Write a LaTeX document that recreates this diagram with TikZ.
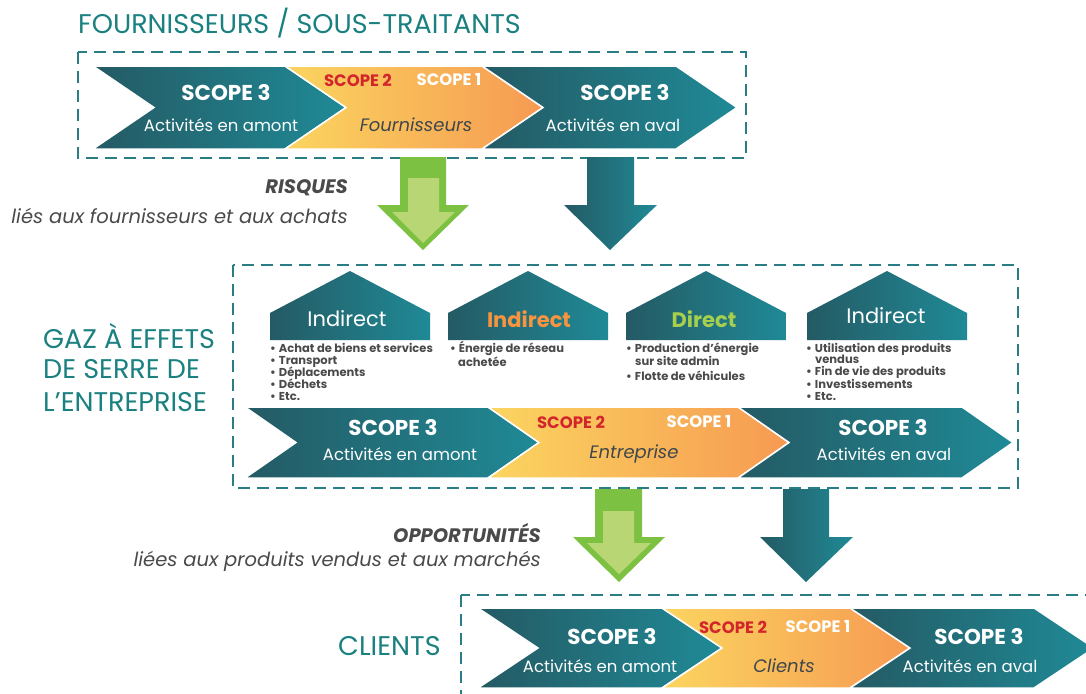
\documentclass[tikz,border=0pt]{standalone}
\usepackage{fontspec}
\setmainfont{Poppins}
\definecolor{tealD}{HTML}{245A64}
\definecolor{tealL}{HTML}{1F8A96}
\definecolor{titleT}{HTML}{1A8080}
\definecolor{yel}{HTML}{FBD560}
\definecolor{org}{HTML}{F69A52}
\definecolor{scred}{HTML}{D3262C}
\definecolor{txtgray}{HTML}{4A4A4A}
\definecolor{darkgray}{HTML}{3E474C}
\definecolor{grnD}{HTML}{7CC142}
\definecolor{grnL}{HTML}{B8D774}
\definecolor{dashT}{HTML}{2A7C85}
\definecolor{dirgreen}{HTML}{A6CF4E}
\definecolor{indorange}{HTML}{F7943F}
\newcommand{\fsz}[1]{\fontsize{#1}{#1}\selectfont}
\newcommand{\mychev}[6]{\shadedraw[#1] (#2,#4) -- (#3,#4) -- ({#3+#6},{(#4+#5)/2}) -- (#3,#5) -- (#2,#5) -- ({#2+#6},{(#4+#5)/2}) -- cycle;}
\newcommand{\myhouse}[3]{\shade[housefill] (#1,313) -- (#2,271) -- (#3,313) -- (#3,340) -- (#1,340) -- cycle;}
\tikzset{
  tealchev/.style={left color=tealD, right color=tealL, draw=white, line width=1.5pt},
  orgchev/.style={left color=yel, right color=org, draw=white, line width=1.5pt},
  housefill/.style={left color=tealD, right color=tealL},
  dashbox/.style={draw=dashT, line width=2pt, dash pattern=on 12pt off 7pt},
  big/.style={text=titleT, font=\fsz{27}, inner sep=0},
  sthree/.style={text=white, font=\fsz{21.5}\bfseries, inner sep=0},
  stwo/.style={text=scred, font=\fsz{16.5}\bfseries, inner sep=0},
  sone/.style={text=white, font=\fsz{16.5}\bfseries, inner sep=0},
  act/.style={text=white, font=\fsz{16.5}, inner sep=0},
  mid/.style={text=darkgray, font=\fsz{18}\itshape, inner sep=0},
  hlab/.style={font=\fsz{21}, inner sep=0},
  bul/.style={text=txtgray, font=\fsz{11.5}\bfseries, inner sep=0, anchor=base west},
  side/.style={text=txtgray, inner sep=0, anchor=east}
}
\begin{document}
\begin{tikzpicture}[x=1pt,y=-1pt]
\useasboundingbox (0,0) rectangle (1086,693);
\clip (0,0) rectangle (1086,693);
\fill[white] (0,0) rectangle (1086,693);

% ---------- dashed boxes ----------
\draw[dashbox] (78,52) rectangle (746,158);
\draw[dashbox] (233,265) rectangle (1018,488);
\draw[dashbox] (461,595) rectangle (1110,720);

% ---------- top row ----------
\node[big, anchor=west] (titleF) at (78,23) {FOURNISSEURS / SOUS-TRAITANTS};
\mychev{tealchev}{93}{285}{66}{149}{61}
\mychev{orgchev}{285}{482}{66}{149}{61}
\mychev{tealchev}{482}{676}{66}{149}{61}
\node[sthree] (a1) at (226,93) {SCOPE 3};
\node[act] (a2) at (221,125) {Activités en amont};
\node[stwo] (a3) at (358,80) {SCOPE 2};
\node[sone] (a4) at (449,80) {SCOPE 1};
\node[mid] (a5) at (416,125) {Fournisseurs};
\node[sthree] (a6) at (625,93) {SCOPE 3};
\node[act] (a7) at (613,125) {Activités en aval};

% ---------- top arrows ----------
\fill[grnD] (400,157) -- (446,157) -- (446,205) -- (469,205) -- (423,250) -- (377,205) -- (400,205) -- cycle;
\fill[grnL] (408,178) -- (439,178) -- (439,212) -- (455,212) -- (423,243) -- (392,212) -- (408,212) -- cycle;
\shade[housefill] (587,157) -- (634,157) -- (634,205) -- (657,205) -- (610,250) -- (564,205) -- (587,205) -- cycle;
\node[side, font=\fsz{19.5}\bfseries\itshape] (risq) at (348,188) {RISQUES};
\node[side, font=\fsz{19.5}\itshape] (risq2) at (348,216) {liés aux fournisseurs et aux achats};

% ---------- middle ----------
\node[big, anchor=west] (g1) at (43,336) {GAZ À EFFETS};
\node[big, anchor=west] (g2) at (43,369) {DE SERRE DE};
\node[big, anchor=west] (g3) at (43,402) {L’ENTREPRISE};

\myhouse{270}{350}{430}
\myhouse{448}{528}{608}
\myhouse{626}{706}{786}
\myhouse{807}{887}{967}
\node[hlab, text=white] (h1) at (347,319) {Indirect};
\node[hlab, text=indorange, font=\fsz{21}\bfseries] (h2) at (529,319) {Indirect};
\node[hlab, text=dirgreen, font=\fsz{21}\bfseries] (h3) at (704,319) {Direct};
\node[hlab, text=white] (h4) at (886,316) {Indirect};

\node[bul] (b11) at (270,352.5) {•\hspace{3pt}Achat de biens et services};
\node[bul] (b12) at (270,364.5) {•\hspace{3pt}Transport};
\node[bul] (b13) at (270,376.5) {•\hspace{3pt}Déplacements};
\node[bul] (b14) at (270,388.5) {•\hspace{3pt}Déchets};
\node[bul] (b15) at (270,400.5) {•\hspace{3pt}Etc.};

\node[bul] (b21) at (450,352.5) {•\hspace{3pt}Énergie de réseau};
\node[bul] (b22) at (458,366.5) {achetée};

\node[bul] (b31) at (626,352.5) {•\hspace{3pt}Production d’énergie};
\node[bul] (b32) at (635,365.5) {sur site admin};
\node[bul] (b33) at (626,380.5) {•\hspace{3pt}Flotte de véhicules};

\node[bul] (b41) at (806,352.5) {•\hspace{3pt}Utilisation des produits};
\node[bul] (b42) at (815,363.5) {vendus};
\node[bul] (b43) at (806,375.5) {•\hspace{3pt}Fin de vie des produits};
\node[bul] (b44) at (806,388) {•\hspace{3pt}Investissements};
\node[bul] (b45) at (806,400.5) {•\hspace{3pt}Etc.};

\mychev{tealchev}{245}{488}{407}{478}{51}
\mychev{orgchev}{488}{738}{407}{478}{51}
\mychev{tealchev}{738}{962}{407}{478}{51}
\node[sthree] (m1) at (393,428) {SCOPE 3};
\node[act] (m2) at (400,454) {Activités en amont};
\node[stwo] (m3) at (571,422) {SCOPE 2};
\node[sone] (m4) at (699,422) {SCOPE 1};
\node[mid] (m5) at (634,454) {Entreprise};
\node[sthree] (m6) at (883,428) {SCOPE 3};
\node[act] (m7) at (884,454) {Activités en aval};

% ---------- bottom arrows ----------
\fill[grnD] (595,489) -- (642,489) -- (642,537) -- (665,537) -- (619,582) -- (573,537) -- (595,537) -- cycle;
\fill[grnL] (603,511) -- (634,511) -- (634,543) -- (651,543) -- (619,574) -- (587,543) -- (603,543) -- cycle;
\shade[housefill] (783,489) -- (829,489) -- (829,537) -- (853,537) -- (806,582) -- (760,537) -- (783,537) -- cycle;
\node[side, font=\fsz{19.5}\bfseries\itshape] (opp) at (541,533) {OPPORTUNITÉS};
\node[side, font=\fsz{19.5}\itshape] (opp2) at (541,561) {liées aux produits vendus et aux marchés};

% ---------- bottom row ----------
\node[big, anchor=west] (cl) at (338,646) {CLIENTS};
\mychev{tealchev}{478}{662}{608}{688}{60}
\mychev{orgchev}{662}{850}{608}{688}{60}
\mychev{tealchev}{850}{1034}{608}{688}{60}
\node[sthree] (c1) at (612,637) {SCOPE 3};
\node[act] (c2) at (600,666) {Activités en amont};
\node[stwo] (c3) at (733,627) {SCOPE 2};
\node[sone] (c4) at (818,627) {SCOPE 1};
\node[mid] (c5) at (784,666) {Clients};
\node[sthree] (c6) at (979,637) {SCOPE 3};
\node[act] (c7) at (970,666) {Activités en aval};
\end{tikzpicture}
\end{document}
